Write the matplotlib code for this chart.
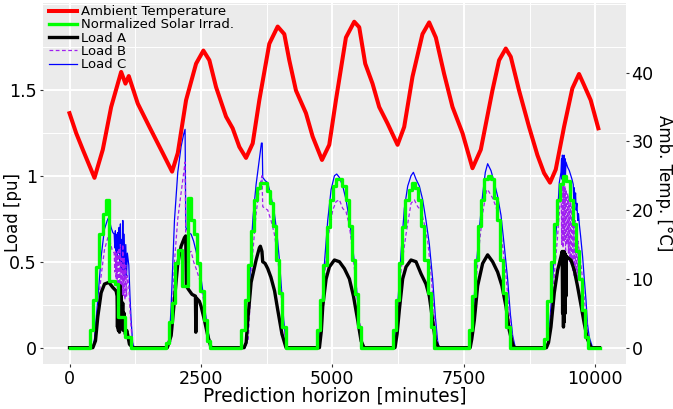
import numpy as np
import matplotlib.pyplot as plt
from matplotlib.ticker import MultipleLocator, FuncFormatter

# ambient temperature [deg C] at selected minutes of the week
temp_pts = [
    (0, 34.1), (127, 31.2), (253, 28.8), (475, 24.7), (633, 28.8), (792, 35.0),
    (982, 40.1), (1064, 38.4), (1127, 39.5), (1298, 35.5), (1520, 32.1), (1773, 28.3),
    (1951, 25.6), (2059, 28.3), (2217, 36.0), (2407, 41.3), (2546, 43.2), (2660, 41.8),
    (2787, 37.9), (2977, 33.6), (3103, 31.9), (3230, 29.2), (3357, 27.6), (3484, 29.7),
    (3610, 36.0), (3800, 44.2), (3959, 46.7), (4085, 45.6), (4180, 41.8), (4307, 37.4),
    (4497, 34.1), (4624, 30.7), (4802, 27.3), (4940, 29.5), (5067, 36.0), (5257, 45.1),
    (5415, 47.4), (5510, 46.6), (5624, 41.3), (5763, 38.4), (5890, 35.0), (6049, 32.6),
    (6239, 29.5), (6365, 32.1), (6523, 39.4), (6713, 45.6), (6840, 47.3), (6967, 45.1),
    (7125, 39.8), (7284, 35.0), (7474, 31.2), (7664, 26.1), (7822, 28.8), (8043, 37.4),
    (8170, 41.8), (8297, 43.5), (8392, 42.3), (8550, 37.4), (8740, 32.1), (8899, 28.0),
    (9025, 25.4), (9139, 24.0), (9247, 25.9), (9405, 32.1), (9563, 37.7), (9690, 39.8),
    (9785, 38.2), (9912, 36.0), (10057, 31.9),
]

# hourly normalized solar irradiance, one list per day (hours 0..23)
solar_day1 = [0, 0, 0, 0, 0, 0, 0, 0.10, 0.28, 0.47, 0.66, 0.78, 0.86, 0.385, 0.385, 0.37,
              0.18, 0.18, 0.06, 0.06, 0, 0, 0, 0]
solar_day2 = [0, 0, 0, 0, 0, 0, 0, 0.03, 0.15, 0.26, 0.49, 0.57, 0.36, 0.36, 0.87, 0.74,
              0.66, 0.49, 0.33, 0.16, 0.04, 0, 0, 0]
solar_day3 = [0, 0, 0, 0, 0, 0, 0, 0.10, 0.28, 0.48, 0.68, 0.86, 0.93, 0.96, 0.96, 0.91,
              0.84, 0.71, 0.51, 0.32, 0.12, 0, 0, 0]
solar_day4 = [0, 0, 0, 0, 0, 0, 0, 0.10, 0.28, 0.48, 0.70, 0.86, 0.94, 0.98, 0.98, 0.94,
              0.86, 0.71, 0.51, 0.31, 0.12, 0, 0, 0]
solar_day5 = [0, 0, 0, 0, 0, 0, 0, 0.10, 0.28, 0.49, 0.70, 0.86, 0.92, 0.96, 0.93, 0.86,
              0.71, 0.51, 0.32, 0.12, 0, 0, 0, 0]
solar_day6 = [0, 0, 0, 0, 0, 0, 0, 0.10, 0.30, 0.51, 0.71, 0.86, 0.98, 1.00, 0.98, 0.87,
              0.74, 0.51, 0.32, 0.12, 0, 0, 0, 0]
solar_day7 = [0, 0, 0, 0, 0, 0, 0, 0.05, 0.27, 0.50, 0.72, 0.86, 0.95, 1.00, 0.97, 0.86,
              0.72, 0.56, 0.40, 0.22, 0.06, 0, 0, 0]

# loads [pu] at selected minutes
load_a_pts = [
    (0, 0), (444, 0), (494, 0.04), (538, 0.18), (602, 0.32), (665, 0.37), (748, 0.38),
    (824, 0.35), (887, 0.33), (905, 0.30), (912, 0.12), (920, 0.32), (930, 0.10), (940, 0.29),
    (950, 0.09), (962, 0.36), (972, 0.14), (985, 0.30), (998, 0.11), (1012, 0.26), (1025, 0.10),
    (1040, 0.20), (1060, 0.08), (1090, 0.10), (1140, 0.02), (1204, 0),
    (1860, 0), (1933, 0.07), (1996, 0.28), (2059, 0.49), (2122, 0.59), (2186, 0.64), (2210, 0.65),
    (2222, 0.36), (2260, 0.34), (2330, 0.31), (2395, 0.30), (2402, 0.09), (2410, 0.29),
    (2470, 0.27), (2503, 0.24), (2566, 0.16), (2630, 0.07), (2692, 0),
    (3320, 0), (3360, 0.03), (3390, 0.16), (3454, 0.38), (3549, 0.51), (3610, 0.58), (3630, 0.59),
    (3660, 0.56), (3674, 0.50), (3720, 0.49), (3770, 0.46), (3830, 0.41), (3900, 0.33),
    (3960, 0.22), (4040, 0.08), (4118, 0),
    (4753, 0), (4790, 0.10), (4816, 0.24), (4880, 0.40), (4943, 0.47), (5038, 0.51), (5133, 0.50),
    (5228, 0.46), (5323, 0.40), (5400, 0.30), (5481, 0.16), (5545, 0.04), (5600, 0),
    (6190, 0), (6230, 0.08), (6273, 0.22), (6336, 0.40), (6400, 0.47), (6495, 0.51), (6590, 0.50),
    (6685, 0.43), (6780, 0.37), (6843, 0.30), (6906, 0.16), (6958, 0.04), (7020, 0),
    (7620, 0), (7650, 0.05), (7699, 0.16), (7762, 0.36), (7857, 0.49), (7952, 0.54), (8047, 0.50),
    (8142, 0.44), (8224, 0.36), (8301, 0.24), (8364, 0.10), (8428, 0.02), (8460, 0),
    (9070, 0), (9110, 0.03), (9156, 0.12), (9220, 0.32), (9283, 0.45), (9347, 0.53), (9370, 0.56),
    (9378, 0.20), (9386, 0.55), (9394, 0.12), (9402, 0.56), (9410, 0.15), (9418, 0.55),
    (9426, 0.20), (9434, 0.54), (9442, 0.30), (9450, 0.53), (9537, 0.51), (9600, 0.45),
    (9660, 0.36), (9720, 0.26), (9790, 0.14), (9850, 0.05), (9918, 0), (10080, 0),
]

load_b_pts = [
    (0, 0), (440, 0), (480, 0.04), (538, 0.22), (602, 0.42), (665, 0.57), (729, 0.64), (770, 0.62),
    (810, 0.57), (850, 0.55), (862, 0.44), (872, 0.56), (884, 0.40), (896, 0.55), (908, 0.35),
    (920, 0.56), (932, 0.38), (944, 0.58), (956, 0.33), (968, 0.60), (980, 0.30), (992, 0.52),
    (1004, 0.30), (1014, 0.60), (1026, 0.30), (1040, 0.52), (1055, 0.28), (1070, 0.48),
    (1085, 0.30), (1100, 0.42), (1128, 0.36), (1150, 0.22), (1172, 0.12), (1200, 0.02), (1230, 0),
    (1860, 0), (1933, 0.04), (1996, 0.50), (2059, 0.75), (2122, 0.90), (2167, 1.01), (2198, 1.08),
    (2212, 0.58), (2260, 0.55), (2313, 0.56), (2360, 0.50), (2408, 0.46), (2471, 0.40),
    (2535, 0.30), (2598, 0.16), (2661, 0.04), (2700, 0),
    (3340, 0), (3400, 0.05), (3440, 0.30), (3485, 0.55), (3549, 0.78), (3612, 0.93), (3660, 1.00),
    (3675, 0.82), (3726, 0.81), (3770, 0.80), (3833, 0.74), (3897, 0.66), (3947, 0.55),
    (3992, 0.43), (4036, 0.27), (4074, 0.13), (4118, 0.02), (4150, 0),
    (4740, 0), (4790, 0.12), (4848, 0.40), (4911, 0.63), (5006, 0.80), (5070, 0.85), (5133, 0.86),
    (5196, 0.81), (5260, 0.79), (5323, 0.71), (5386, 0.55), (5450, 0.37), (5513, 0.16),
    (5560, 0.03), (5600, 0),
    (6190, 0), (6241, 0.18), (6305, 0.45), (6400, 0.66), (6495, 0.84), (6558, 0.86), (6622, 0.82),
    (6685, 0.80), (6748, 0.72), (6812, 0.62), (6870, 0.45), (6920, 0.26), (6970, 0.08), (7020, 0),
    (7620, 0), (7667, 0.12), (7731, 0.38), (7794, 0.60), (7857, 0.78), (7933, 0.92), (7971, 0.91),
    (8047, 0.87), (8111, 0.82), (8174, 0.74), (8237, 0.59), (8301, 0.42), (8350, 0.25),
    (8400, 0.10), (8450, 0.02), (8478, 0),
    (9080, 0), (9125, 0.08), (9220, 0.42), (9283, 0.65), (9330, 0.85), (9350, 0.93), (9362, 0.60),
    (9374, 0.96), (9386, 0.58), (9398, 0.95), (9410, 0.62), (9422, 0.94), (9434, 0.55),
    (9446, 0.92), (9460, 0.60), (9474, 0.90), (9488, 0.55), (9502, 0.88), (9516, 0.50),
    (9530, 0.85), (9544, 0.48), (9558, 0.82), (9572, 0.45), (9586, 0.78), (9600, 0.42),
    (9614, 0.74), (9628, 0.40), (9642, 0.68), (9656, 0.38), (9670, 0.62), (9700, 0.55),
    (9740, 0.45), (9780, 0.32), (9820, 0.20), (9860, 0.08), (9900, 0.01), (9948, 0), (10080, 0),
]

load_c_pts = [
    (0, 0), (440, 0), (475, 0.05), (538, 0.28), (602, 0.53), (665, 0.69), (729, 0.75), (760, 0.74),
    (790, 0.70), (824, 0.67), (850, 0.66), (862, 0.58), (872, 0.68), (884, 0.55), (896, 0.66),
    (908, 0.52), (920, 0.67), (932, 0.55), (944, 0.70), (956, 0.50), (968, 0.72), (980, 0.46),
    (992, 0.63), (1004, 0.44), (1014, 0.74), (1026, 0.42), (1040, 0.66), (1055, 0.40),
    (1070, 0.60), (1085, 0.42), (1100, 0.55), (1128, 0.48), (1150, 0.30), (1172, 0.16),
    (1200, 0.03), (1230, 0),
    (1860, 0), (1900, 0.06), (1933, 0.24), (1996, 0.74), (2059, 1.02), (2122, 1.17), (2170, 1.24),
    (2198, 1.27), (2212, 0.70), (2260, 0.67), (2313, 0.66), (2360, 0.62), (2408, 0.56),
    (2471, 0.47), (2535, 0.33), (2598, 0.17), (2661, 0.05), (2700, 0),
    (3340, 0), (3380, 0.06), (3422, 0.33), (3454, 0.58), (3490, 0.76), (3549, 0.95), (3612, 1.10),
    (3650, 1.19), (3665, 1.19), (3675, 0.99), (3726, 0.97), (3770, 0.96), (3833, 0.88),
    (3897, 0.78), (3947, 0.66), (3992, 0.51), (4036, 0.32), (4074, 0.16), (4118, 0.03), (4150, 0),
    (4740, 0), (4785, 0.16), (4848, 0.49), (4911, 0.74), (4975, 0.92), (5038, 1.00), (5082, 1.01),
    (5133, 0.99), (5196, 0.94), (5260, 0.86), (5323, 0.74), (5386, 0.59), (5437, 0.43),
    (5481, 0.26), (5526, 0.10), (5576, 0.01), (5600, 0),
    (6190, 0), (6241, 0.24), (6305, 0.55), (6368, 0.81), (6432, 0.94), (6495, 1.00), (6540, 1.02),
    (6590, 0.98), (6654, 0.94), (6717, 0.86), (6780, 0.74), (6844, 0.60), (6906, 0.40),
    (6958, 0.18), (7000, 0.04), (7030, 0),
    (7620, 0), (7667, 0.16), (7731, 0.45), (7794, 0.69), (7857, 0.89), (7908, 1.02), (7952, 1.07),
    (8016, 1.03), (8079, 0.96), (8142, 0.88), (8206, 0.77), (8269, 0.59), (8332, 0.40),
    (8383, 0.20), (8428, 0.07), (8478, 0),
    (9080, 0), (9125, 0.10), (9170, 0.30), (9220, 0.55), (9283, 0.78), (9315, 0.96), (9347, 1.02),
    (9358, 1.10), (9366, 0.98), (9374, 1.12), (9382, 0.96), (9390, 1.11), (9398, 0.97),
    (9406, 1.12), (9414, 0.99), (9422, 1.10), (9432, 1.00), (9442, 1.08), (9473, 1.05),
    (9505, 1.03), (9556, 0.98), (9580, 0.95), (9590, 0.86), (9600, 0.93), (9612, 0.84),
    (9624, 0.90), (9636, 0.80), (9650, 0.84), (9665, 0.74), (9680, 0.78), (9695, 0.72),
    (9720, 0.65), (9758, 0.53), (9790, 0.40), (9822, 0.28), (9850, 0.14), (9885, 0.06),
    (9948, 0), (10080, 0),
]

# unpack into arrays
temp_t, temp_c = np.array(temp_pts).T
a_t, a_v = np.array(load_a_pts).T
b_t, b_v = np.array(load_b_pts).T
c_t, c_v = np.array(load_c_pts).T
solar = np.concatenate([solar_day1, solar_day2, solar_day3, solar_day4,
                        solar_day5, solar_day6, solar_day7, [0]])
solar_t = np.arange(len(solar)) * 60

# figure
fig = plt.figure(figsize=(6.73, 4.09), dpi=100)
ax = fig.add_axes([0.0639, 0.1100, 0.8663, 0.8827])
ax.set_facecolor('#EBEBEB')
for s in ax.spines.values():
    s.set_visible(False)

ax.plot(c_t, c_v, color='#0000FF', lw=0.9, label='Load C', zorder=3)
ax.plot(b_t, b_v, color='#A020F0', lw=0.9, ls=(0, (3, 2)), label='Load B', zorder=4)
ax.plot(a_t, a_v, color='black', lw=2.4, label='Load A', zorder=5)
ax.plot(solar_t, solar, color='#00FF00', lw=2.4, drawstyle='steps-mid',
        label='Normalized Solar Irrad.', zorder=6)

ax.set_xlim(-504, 10584)
ax.set_ylim(-0.095, 2.005)
ax.xaxis.set_major_locator(MultipleLocator(2500))
ax.xaxis.set_minor_locator(MultipleLocator(1250))
ax.yaxis.set_major_locator(MultipleLocator(0.5))
ax.yaxis.set_minor_locator(MultipleLocator(0.25))
ax.yaxis.set_major_formatter(FuncFormatter(lambda v, p: f'{v:g}'))
ax.set_yticks([0, 0.5, 1, 1.5])
ax.grid(which='major', color='white', lw=1.4)
ax.grid(which='minor', color='white', lw=0.7)
ax.set_axisbelow(True)
ax.tick_params(which='major', length=2.5, width=0.8, color='#333333',
               labelsize=12.6, labelcolor='black', pad=2)
ax.tick_params(which='minor', length=0)
ax.set_xlabel('Prediction horizon [minutes]', fontsize=13.4, labelpad=-1)
ax.set_ylabel('Load [pu]', fontsize=12)
ax.yaxis.set_label_coords(-0.036, 0.42)

# temperature on its own scale (25 degC per pu)
ax2 = ax.twinx()
for s in ax2.spines.values():
    s.set_visible(False)
ax2.plot(temp_t, temp_c, color='#FF0000', lw=2.9, label='Ambient Temperature')
ax2.set_ylim(-0.095 * 25, 2.005 * 25)
ax2.set_yticks([0, 10, 20, 30, 40])
ax2.tick_params(length=2.5, width=0.8, color='#333333', labelsize=12.6,
                labelcolor='black', pad=1.5)
ax2.set_ylabel('Amb. Temp. [°C]', fontsize=12, rotation=270, va='bottom')
ax2.yaxis.set_label_coords(1.0489, 0.5)

h1, l1 = ax.get_legend_handles_labels()
h2, l2 = ax2.get_legend_handles_labels()
order = [h2[0], h1[3], h1[2], h1[1], h1[0]]
labels = [l2[0], l1[3], l1[2], l1[1], l1[0]]
ax2.legend(order, labels, loc='upper left', bbox_to_anchor=(0.01, 0.994),
           frameon=False, fontsize=9.5, handlelength=2.1, handletextpad=0.3,
           labelspacing=0.02, borderaxespad=0, borderpad=0)

fig.savefig('out.png', dpi=100)
